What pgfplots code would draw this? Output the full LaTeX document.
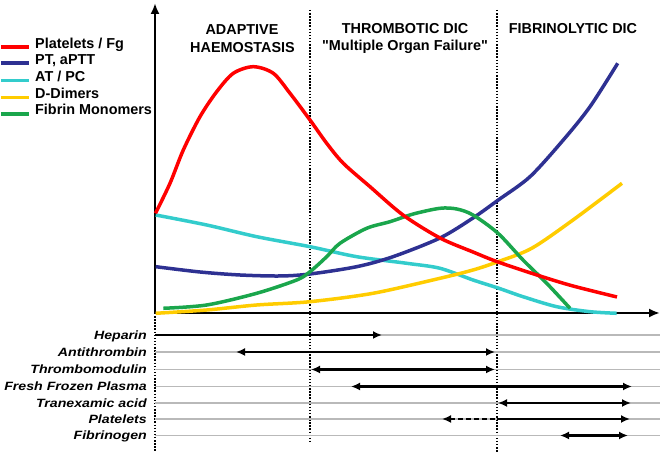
\documentclass[border=0pt]{standalone}
\usepackage{fontspec}
\setmainfont{Liberation Sans}[Ligatures=TeXOff]
\usepackage{pgfplots}
\pgfplotsset{compat=1.18}
\usetikzlibrary{arrows.meta}
\definecolor{cRed}{RGB}{255,0,0}
\definecolor{cBlue}{RGB}{46,49,146}
\definecolor{cCyan}{RGB}{51,204,204}
\definecolor{cYellow}{RGB}{255,204,0}
\definecolor{cGreen}{RGB}{26,166,76}
\definecolor{cGrey}{RGB}{185,185,185}
\begin{document}
\begin{tikzpicture}
\begin{axis}[
  scale only axis, width=505bp, height=310bp,
  xmin=155, xmax=660, ymin=141, ymax=451,
  axis lines=left,
  axis line style={line width=2.5bp, -{Latex[length=11bp,width=9bp]}},
  xtick=\empty, ytick=\empty,
  clip=false,
  curve/.style={line width=3.5bp, smooth, tension=0.5, no markers},
  treat/.style={line width=2.1bp, no markers, {Latex[length=9bp,width=8bp]}-{Latex[length=9bp,width=8bp]}},
  gl/.style={line width=1.3bp, cGrey, no markers},
  vdot/.style={line width=1.5bp, black, dash pattern=on 1.5bp off 1.6bp, no markers},
  swatch/.style={line width=3.6bp, no markers},
]
% phase separators
\addplot[vdot] coordinates {(155,141) (155,2)};
\addplot[vdot] coordinates {(310,444) (310,10)};
\addplot[vdot] coordinates {(497,444) (497,2)};
% treatment grey rows
\addplot[gl] coordinates {(155,119) (660,119)};
\addplot[gl] coordinates {(155,102) (660,102)};
\addplot[gl] coordinates {(155,84.5) (660,84.5)};
\addplot[gl] coordinates {(155,67.5) (660,67.5)};
\addplot[gl] coordinates {(155,51) (660,51)};
\addplot[gl] coordinates {(155,35) (660,35)};
\addplot[gl] coordinates {(155,18.5) (660,18.5)};
% curves
\addplot[curve, cCyan] coordinates {(155.7,239) (206.7,229) (256.7,217.3) (310,207.3) (356.7,197.3) (406.7,190.7) (440,185.7) (473,174) (498,166) (523,157.3) (556.7,147.3) (590,142.3) (616.7,140.7)};
\addplot[curve, cYellow] coordinates {(155.7,140.7) (206.7,144) (256.7,149) (310,152.3) (373,160.7) (440,175.7) (473,184) (498,192.3) (531.7,205.7) (573,234) (622,270.7)};
\addplot[curve, cBlue] coordinates {(155.7,187.3) (200,182) (240,179) (280,178) (310,180) (356.7,187.3) (393,197.3) (440,216) (473,236) (498.3,254) (530,277.3) (563.3,314) (590,347.3) (617.7,390.7)};
\addplot[curve, cGreen] coordinates {(163.3,145.7) (206.7,149) (256.7,160.7) (296.7,174) (310,182.3) (326.7,197.3) (340,210.7) (366.7,225.7) (390,232.3) (413.3,240) (440,245.7) (456.7,245) (473,239) (498,220.7) (523,194) (546.7,170.7) (570,145.7)};
\addplot[curve, cRed] coordinates {(155.5,240.7) (170,270.7) (183.3,304) (200,337.3) (216.7,362.3) (233.3,380.7) (253.3,387.3) (273.3,380.7) (290,360.7) (310,334) (326.7,310.7) (343.3,290.7) (370,267.3) (403,239) (440,216) (473,202) (498,192) (540,178) (573,168) (617,157)};
% legend swatches
\addplot[swatch, cRed] coordinates {(1,406.7) (29,406.7)};
\addplot[swatch, cBlue] coordinates {(1,390.7) (29,390.7)};
\addplot[swatch, cCyan] coordinates {(1,373.3) (29,373.3)};
\addplot[swatch, cYellow] coordinates {(1,356.3) (29,356.3)};
\addplot[swatch, cGreen] coordinates {(1,340) (29,340)};
% treatment arrows
\addplot[treat, -{Latex[length=9bp,width=8bp]}] coordinates {(155,119) (382,119)};
\addplot[treat] coordinates {(236,102) (495,102)};
\addplot[treat] coordinates {(311,84.5) (495,84.5)};
\addplot[treat] coordinates {(351,67.5) (632,67.5)};
\addplot[treat] coordinates {(498,51) (631,51)};
\addplot[line width=2.1bp, no markers, dash pattern=on 5bp off 3bp, {Latex[length=9bp,width=8bp]}-] coordinates {(442,35) (497,35)};
\addplot[line width=2.1bp, no markers, -{Latex[length=9bp,width=8bp]}] coordinates {(497,35) (630,35)};
\addplot[treat] coordinates {(560,18.5) (628,18.5)};
% texts
\begin{scope}[every node/.style={font=\fontsize{14.4bp}{16bp}\selectfont\bfseries, inner sep=0pt}]
\node[anchor=base west] at (axis cs:35,405.7) {Platelets / Fg};
\node[anchor=base west] at (axis cs:35,389) {PT, aPTT};
\node[anchor=base west] at (axis cs:35,372.3) {AT / PC};
\node[anchor=base west] at (axis cs:35,355.7) {D-Dimers};
\node[anchor=base west] at (axis cs:35,339) {Fibrin Monomers};
\node[anchor=base] at (axis cs:242,419) {ADAPTIVE};
\node[anchor=base] at (axis cs:242.5,401.3) {HAEMOSTASIS};
\node[anchor=base] at (axis cs:405,420.7) {THROMBOTIC DIC};
\node[anchor=base] at (axis cs:405,403.3) {"Multiple Organ Failure"};
\node[anchor=base] at (axis cs:573,420.5) {FIBRINOLYTIC DIC};
\end{scope}
\begin{scope}[every node/.style={font=\fontsize{12bp}{14bp}\selectfont\bfseries\itshape, inner sep=0pt, anchor=base east, xscale=1.18}]
\node at (axis cs:147,114.7) {Heparin};
\node at (axis cs:147,97.7) {Antithrombin};
\node at (axis cs:147,80.2) {Thrombomodulin};
\node at (axis cs:147,63.2) {Fresh Frozen Plasma};
\node at (axis cs:147,46.7) {Tranexamic acid};
\node at (axis cs:147,30.7) {Platelets};
\node at (axis cs:147,14.2) {Fibrinogen};
\end{scope}
\coordinate (bbA) at (axis cs:0,0);
\coordinate (bbB) at (axis cs:664,454);
\end{axis}
\pgfresetboundingbox
\useasboundingbox (bbA) rectangle (bbB);
\end{tikzpicture}
\end{document}
